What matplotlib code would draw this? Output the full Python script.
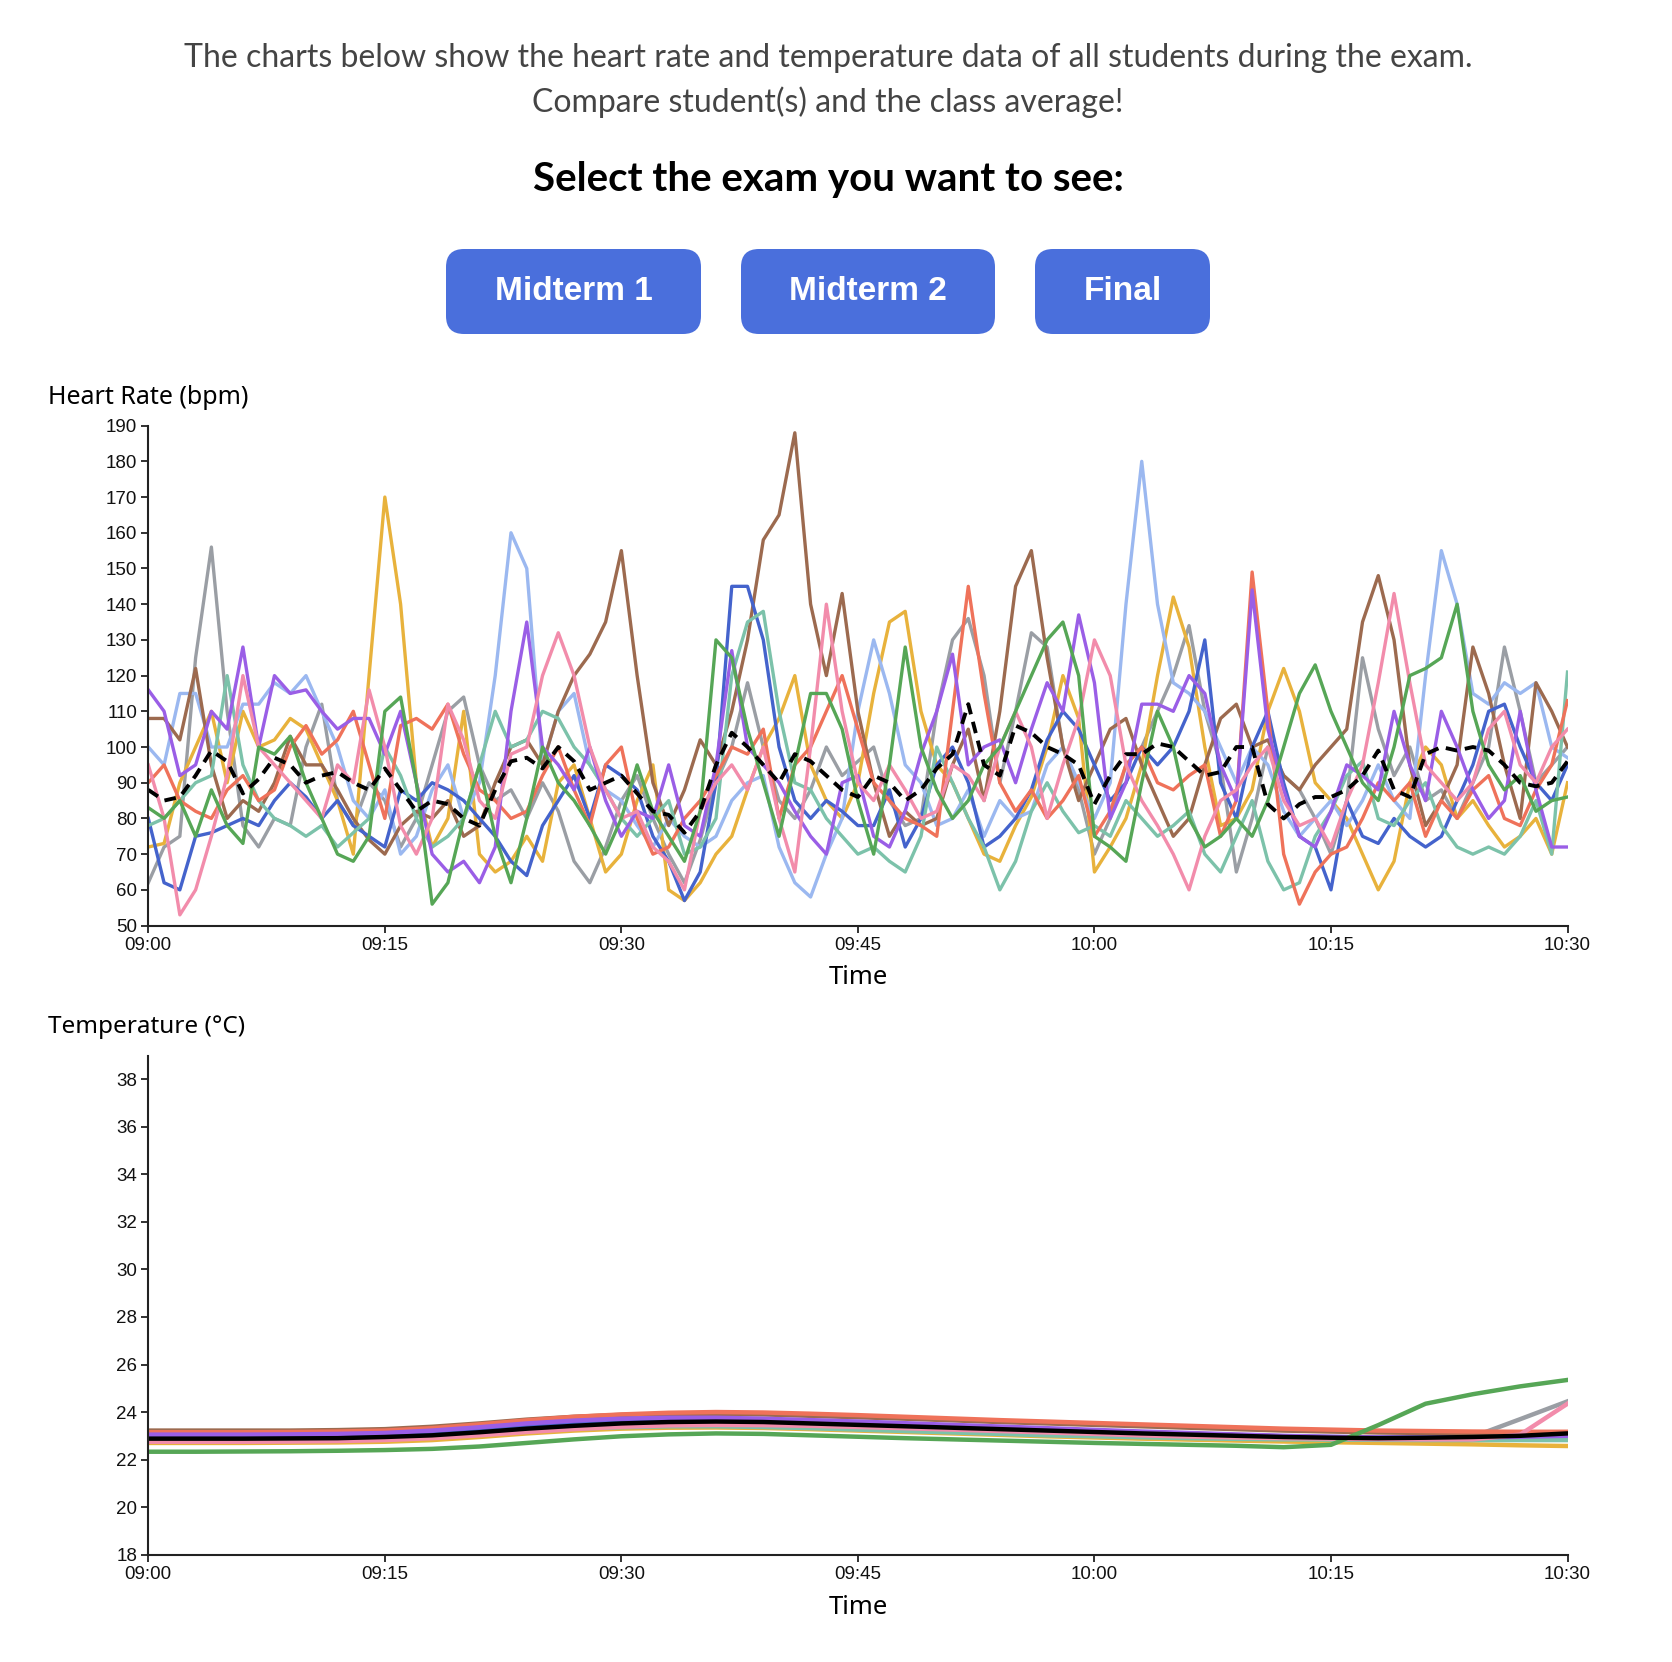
import matplotlib
matplotlib.use("Agg")
import matplotlib.pyplot as plt
from matplotlib.patches import FancyBboxPatch
import numpy as np

plt.rcParams['font.family'] = ['Liberation Sans', 'DejaVu Sans']

# ---------------- texts ----------------
intro_line1 = "The charts below show the heart rate and temperature data of all students during the exam."
intro_line2 = "Compare student(s) and the class average!"
heading = "Select the exam you want to see:"
buttons = ["Midterm 1", "Midterm 2", "Final"]
hr_title = "Heart Rate (bpm)"
temp_title = "Temperature (°C)"
x_title = "Time"

# ---------------- axes ticks ----------------
x_tick_minutes = [0, 15, 30, 45, 60, 75, 90]
x_tick_labels = ["09:00", "09:15", "09:30", "09:45", "10:00", "10:15", "10:30"]
hr_ticks = [50, 60, 70, 80, 90, 100, 110, 120, 130, 140, 150, 160, 170, 180, 190]
temp_ticks = [18, 20, 22, 24, 26, 28, 30, 32, 34, 36, 38]

# ---------------- series colours ----------------
student_names = ["gray", "yellow", "lightblue", "brown", "blue", "teal", "red", "purple", "pink", "green"]
student_colors = ["#9a9ea4", "#e8b23c", "#9bb8f0", "#9c6a4f", "#4463cc", "#7cc2aa", "#ef725a", "#9a5ee6", "#f28cab", "#56a656"]

# ---------------- heart rate (one value per minute, 09:00 .. 10:30) ----------------
hr_minutes = list(range(91))
hr_gray = [62, 72, 75, 125, 156, 110, 78, 72, 80, 78,
           100, 112, 85, 78, 90, 85, 72, 80, 95, 110,
           114, 95, 85, 88, 80, 90, 82, 68, 62, 72,
           85, 92, 80, 70, 62, 74, 90, 100, 118, 100,
           85, 80, 88, 100, 92, 96, 100, 85, 78, 80,
           110, 130, 136, 120, 90, 110, 132, 128, 100, 88,
           70, 80, 95, 100, 110, 120, 134, 110, 95, 65,
           80, 100, 92, 88, 80, 70, 85, 125, 105, 92,
           100, 85, 88, 80, 90, 100, 128, 110, 90, 95, 100]
hr_yellow = [72, 73, 90, 100, 110, 90, 110, 100, 102, 108,
             105, 95, 85, 70, 120, 170, 140, 90, 72, 80,
             110, 70, 65, 68, 75, 68, 90, 95, 80, 65,
             70, 85, 95, 60, 57, 62, 70, 75, 88, 100,
             108, 120, 95, 85, 80, 90, 115, 135, 138, 110,
             95, 90, 80, 70, 68, 78, 86, 100, 120, 108,
             65, 72, 80, 95, 120, 142, 128, 100, 78, 80,
             88, 110, 122, 110, 90, 85, 80, 70, 60, 68,
             90, 100, 95, 80, 85, 78, 72, 75, 80, 70, 90]
hr_lightblue = [100, 95, 115, 115, 100, 100, 112, 112, 118, 115,
                120, 110, 100, 85, 80, 88, 70, 75, 88, 95,
                80, 90, 120, 160, 150, 95, 110, 115, 95, 88,
                85, 78, 72, 80, 75, 72, 75, 85, 90, 92,
                72, 62, 58, 70, 80, 110, 130, 115, 95, 90,
                78, 80, 88, 75, 85, 80, 82, 95, 100, 90,
                80, 90, 140, 180, 140, 118, 115, 110, 100, 90,
                100, 95, 82, 75, 80, 85, 78, 85, 95, 85,
                80, 120, 155, 140, 115, 112, 118, 115, 118, 100, 97]
hr_brown = [108, 108, 102, 122, 95, 80, 85, 82, 90, 103,
            95, 95, 88, 80, 74, 70, 78, 82, 80, 85,
            75, 78, 90, 100, 102, 95, 110, 120, 126, 135,
            155, 120, 90, 78, 88, 102, 95, 110, 130, 158,
            165, 188, 140, 120, 143, 110, 90, 75, 82, 78,
            80, 95, 105, 85, 110, 145, 155, 125, 100, 85,
            95, 105, 108, 95, 85, 75, 80, 95, 108, 112,
            100, 102, 92, 88, 95, 100, 105, 135, 148, 130,
            95, 78, 85, 95, 128, 115, 95, 80, 118, 110, 100]
hr_blue = [80, 62, 60, 75, 76, 78, 80, 78, 85, 90,
           86, 80, 85, 78, 75, 72, 88, 85, 90, 88,
           85, 80, 75, 68, 64, 78, 85, 92, 80, 95,
           92, 88, 75, 68, 57, 65, 90, 145, 145, 130,
           100, 85, 80, 85, 82, 78, 78, 88, 72, 80,
           95, 100, 90, 72, 75, 80, 88, 102, 110, 105,
           95, 85, 90, 100, 95, 100, 110, 130, 90, 80,
           100, 110, 90, 75, 72, 60, 85, 75, 73, 80,
           75, 72, 75, 85, 95, 110, 112, 100, 90, 85, 95]
hr_teal = [78, 80, 85, 90, 92, 120, 95, 85, 80, 78,
           75, 78, 72, 76, 80, 100, 92, 80, 72, 75,
           80, 95, 110, 100, 102, 110, 108, 100, 95, 88,
           80, 75, 80, 85, 70, 72, 80, 120, 135, 138,
           110, 90, 88, 80, 75, 70, 72, 68, 65, 75,
           100, 90, 80, 72, 60, 68, 82, 90, 82, 76,
           78, 75, 85, 80, 75, 78, 82, 70, 65, 75,
           85, 68, 60, 62, 75, 82, 92, 96, 80, 78,
           85, 90, 78, 72, 70, 72, 70, 75, 85, 70, 121]
hr_red = [90, 95, 85, 82, 80, 88, 92, 85, 88, 100,
          106, 98, 102, 110, 95, 80, 106, 108, 105, 112,
          98, 88, 85, 80, 82, 92, 100, 88, 78, 95,
          100, 80, 70, 72, 80, 85, 92, 100, 98, 105,
          80, 95, 100, 110, 120, 105, 90, 85, 80, 78,
          75, 110, 145, 115, 90, 82, 88, 80, 85, 92,
          75, 82, 95, 100, 90, 88, 92, 95, 75, 85,
          149, 110, 70, 56, 65, 70, 72, 80, 90, 85,
          90, 75, 85, 80, 88, 92, 80, 78, 88, 95, 113]
hr_purple = [116, 110, 92, 95, 110, 105, 128, 100, 120, 115,
             116, 110, 105, 108, 108, 98, 110, 90, 70, 65,
             68, 62, 72, 110, 135, 100, 95, 88, 100, 85,
             75, 82, 80, 95, 78, 75, 95, 127, 100, 95,
             90, 82, 75, 70, 90, 92, 75, 72, 82, 98,
             110, 126, 95, 100, 102, 90, 105, 118, 110, 137,
             118, 80, 90, 112, 112, 110, 120, 115, 95, 85,
             144, 105, 88, 75, 72, 82, 95, 92, 88, 110,
             95, 85, 110, 100, 88, 80, 85, 110, 88, 72, 72]
hr_pink = [95, 80, 53, 60, 75, 92, 120, 100, 95, 90,
           85, 80, 95, 90, 116, 100, 78, 70, 80, 112,
           102, 85, 80, 98, 100, 120, 132, 120, 100, 88,
           80, 82, 72, 68, 60, 82, 90, 95, 88, 100,
           80, 65, 100, 140, 110, 90, 85, 95, 88, 80,
           82, 95, 92, 85, 100, 110, 100, 80, 95, 108,
           130, 120, 95, 85, 78, 70, 60, 75, 85, 88,
           95, 100, 85, 78, 80, 72, 85, 95, 118, 143,
           118, 95, 90, 85, 90, 105, 110, 95, 90, 100, 105]
hr_green = [83, 80, 85, 75, 88, 78, 73, 100, 98, 103,
            90, 80, 70, 68, 75, 110, 114, 90, 56, 62,
            80, 95, 75, 62, 80, 100, 90, 85, 78, 70,
            80, 95, 82, 75, 68, 82, 130, 125, 105, 90,
            75, 95, 115, 115, 105, 85, 70, 95, 128, 100,
            88, 80, 85, 95, 100, 110, 120, 130, 135, 120,
            75, 72, 68, 90, 110, 100, 80, 72, 75, 80,
            75, 85, 100, 115, 123, 110, 100, 90, 85, 100,
            120, 122, 125, 140, 110, 95, 88, 92, 82, 85, 86]
hr_average = [88, 85, 86, 92, 99, 96, 87, 91, 97, 95,
              90, 92, 93, 90, 88, 94, 88, 82, 85, 84,
              80, 78, 88, 96, 97, 94, 100, 96, 88, 90,
              92, 87, 82, 81, 76, 82, 95, 104, 100, 95,
              90, 98, 96, 92, 88, 86, 92, 90, 85, 88,
              94, 98, 112, 95, 92, 106, 104, 100, 98, 95,
              84, 92, 98, 98, 101, 100, 96, 92, 93, 100,
              100, 84, 80, 84, 86, 86, 88, 92, 99, 88,
              86, 98, 100, 99, 100, 99, 95, 90, 89, 90, 96]

# ---------------- temperature (one value every 3 minutes) ----------------
temp_minutes = [0, 3, 6, 9, 12, 15, 18, 21, 24, 27, 30, 33, 36, 39, 42, 45,
                48, 51, 54, 57, 60, 63, 66, 69, 72, 75, 78, 81, 84, 87, 90]
t_gray = [22.85, 22.85, 22.85, 22.86, 22.88, 22.92, 23.0, 23.12, 23.26, 23.38, 23.46, 23.5, 23.52, 23.5, 23.45, 23.4,
          23.34, 23.28, 23.22, 23.16, 23.1, 23.05, 23.0, 22.95, 22.92, 22.9, 22.9, 22.92, 22.96, 23.7, 24.45]
t_yellow = [22.7, 22.7, 22.7, 22.71, 22.72, 22.75, 22.82, 22.95, 23.1, 23.22, 23.3, 23.34, 23.35, 23.33, 23.28, 23.22,
            23.16, 23.1, 23.04, 22.98, 22.93, 22.88, 22.84, 22.8, 22.76, 22.73, 22.7, 22.67, 22.64, 22.6, 22.57]
t_lightblue = [22.98, 22.98, 22.98, 22.99, 23.0, 23.04, 23.14, 23.28, 23.42, 23.54, 23.62, 23.66, 23.66, 23.62, 23.56, 23.5,
               23.44, 23.38, 23.32, 23.26, 23.2, 23.14, 23.08, 23.02, 22.97, 22.93, 22.9, 22.88, 22.87, 22.86, 22.85]
t_brown = [23.22, 23.22, 23.22, 23.22, 23.24, 23.28, 23.38, 23.52, 23.68, 23.8, 23.88, 23.92, 23.92, 23.9, 23.84, 23.78,
           23.72, 23.65, 23.58, 23.52, 23.46, 23.4, 23.34, 23.28, 23.22, 23.18, 23.14, 23.12, 23.1, 23.08, 23.08]
t_blue = [22.95, 22.95, 22.95, 22.96, 22.98, 23.02, 23.1, 23.24, 23.38, 23.5, 23.58, 23.62, 23.63, 23.6, 23.55, 23.49,
          23.43, 23.37, 23.31, 23.25, 23.19, 23.13, 23.07, 23.02, 22.98, 22.95, 22.93, 22.92, 22.92, 22.92, 22.93]
t_teal = [22.8, 22.8, 22.8, 22.81, 22.83, 22.87, 22.95, 23.07, 23.2, 23.3, 23.36, 23.4, 23.4, 23.37, 23.32, 23.26,
          23.2, 23.14, 23.08, 23.02, 22.98, 22.94, 22.9, 22.87, 22.85, 22.84, 22.83, 22.82, 22.82, 22.82, 22.82]
t_red = [23.15, 23.15, 23.15, 23.16, 23.18, 23.22, 23.32, 23.48, 23.65, 23.8, 23.9, 23.97, 24.0, 23.98, 23.93, 23.87,
         23.8, 23.73, 23.66, 23.6, 23.54, 23.48, 23.42, 23.36, 23.3, 23.26, 23.22, 23.2, 23.18, 23.17, 23.17]
t_purple = [23.05, 23.05, 23.05, 23.06, 23.08, 23.12, 23.22, 23.36, 23.52, 23.64, 23.72, 23.76, 23.76, 23.72, 23.66, 23.6,
            23.53, 23.46, 23.39, 23.32, 23.25, 23.18, 23.12, 23.06, 23.0, 22.96, 22.93, 22.92, 22.93, 22.96, 23.0]
t_pink = [22.75, 22.75, 22.75, 22.76, 22.78, 22.82, 22.9, 23.02, 23.16, 23.28, 23.38, 23.44, 23.46, 23.45, 23.42, 23.37,
          23.32, 23.26, 23.2, 23.14, 23.08, 23.02, 22.97, 22.93, 22.9, 22.88, 22.86, 22.85, 22.85, 23.05, 24.35]
t_green = [22.33, 22.33, 22.34, 22.35, 22.37, 22.4, 22.45, 22.55, 22.7, 22.85, 22.98, 23.06, 23.1, 23.08, 23.02, 22.96,
           22.9, 22.85, 22.8, 22.75, 22.7, 22.66, 22.62, 22.58, 22.52, 22.62, 23.45, 24.35, 24.75, 25.08, 25.35]
t_average = [22.88, 22.88, 22.88, 22.89, 22.9, 22.95, 23.02, 23.15, 23.3, 23.42, 23.52, 23.58, 23.6, 23.58, 23.52, 23.46,
             23.4, 23.34, 23.28, 23.22, 23.16, 23.1, 23.05, 23.0, 22.95, 22.92, 22.9, 22.92, 22.95, 23.0, 23.1]

hr_series = [hr_gray, hr_yellow, hr_lightblue, hr_brown, hr_blue, hr_teal, hr_red, hr_purple, hr_pink, hr_green]
temp_series = [t_gray, t_yellow, t_lightblue, t_brown, t_blue, t_teal, t_red, t_purple, t_pink, t_green]

# ---------------- figure ----------------
W, H = 1672, 1662
fig = plt.figure(figsize=(W / 100, H / 100), dpi=100)

ov = fig.add_axes([0, 0, 1, 1])
ov.set_xlim(0, W)
ov.set_ylim(H, 0)
ov.axis('off')

ov.text(828, 58, intro_line1, ha='center', va='center', fontsize=23, color='#444444', family=['Lato', 'DejaVu Sans'])
ov.text(828, 102, intro_line2, ha='center', va='center', fontsize=23, color='#444444', family=['Lato', 'DejaVu Sans'])
ov.text(828, 179, heading, ha='center', va='center', fontsize=29, color='black', fontweight='bold',
        family=['Lato', 'DejaVu Sans'])

button_x = [(446, 701), (741, 995), (1035, 1210)]
for label, (x0, x1) in zip(buttons, button_x):
    ov.add_patch(FancyBboxPatch((x0, 249), x1 - x0, 85, boxstyle="round,pad=0,rounding_size=18",
                                fc='#4a6fdc', ec='none'))
    ov.text((x0 + x1) / 2, 292, label, ha='center', va='center', color='white', fontsize=24,
            fontweight='bold', family=['Liberation Sans', 'DejaVu Sans'])

ov.text(48, 397, hr_title, ha='left', va='center', fontsize=18, color='black', family=['Noto Sans', 'DejaVu Sans'])
ov.text(48, 1027, temp_title, ha='left', va='center', fontsize=17.5, color='black', family=['Noto Sans', 'DejaVu Sans'])
ov.text(858, 977, x_title, ha='center', va='center', fontsize=18.5, color='black', family=['Noto Sans', 'DejaVu Sans'])
ov.text(858, 1607, x_title, ha='center', va='center', fontsize=18.5, color='black', family=['Noto Sans', 'DejaVu Sans'])


def style(ax):
    ax.set_facecolor('none')
    for s in ['top', 'right']:
        ax.spines[s].set_visible(False)
    for s in ['left', 'bottom']:
        ax.spines[s].set_linewidth(1.5)
        ax.spines[s].set_color('#222222')
    ax.tick_params(length=5, width=1.3, color='#222222', labelsize=13.5, pad=3, labelcolor='#111111')
    ax.set_xlim(0, 90)
    ax.set_xticks(x_tick_minutes)
    ax.set_xticklabels(x_tick_labels)


ax1 = fig.add_axes([0.0887, 0.4431, 0.8488, 0.3008])
style(ax1)
ax1.set_ylim(50, 190)
ax1.set_yticks(hr_ticks)
for vals, col in zip(hr_series, student_colors):
    ax1.plot(hr_minutes, vals, color=col, lw=2.4, solid_joinstyle='round')
ax1.plot(hr_minutes, hr_average, color='black', lw=2.8, dashes=(3, 2))

ax2 = fig.add_axes([0.0887, 0.0646, 0.8488, 0.3003])
style(ax2)
ax2.set_ylim(18, 39)
ax2.set_yticks(temp_ticks)
for vals, col in zip(temp_series, student_colors):
    ax2.plot(temp_minutes, vals, color=col, lw=3.2)
ax2.plot(temp_minutes, t_average, color='black', lw=3.2)

fig.savefig("out.png", dpi=100)
